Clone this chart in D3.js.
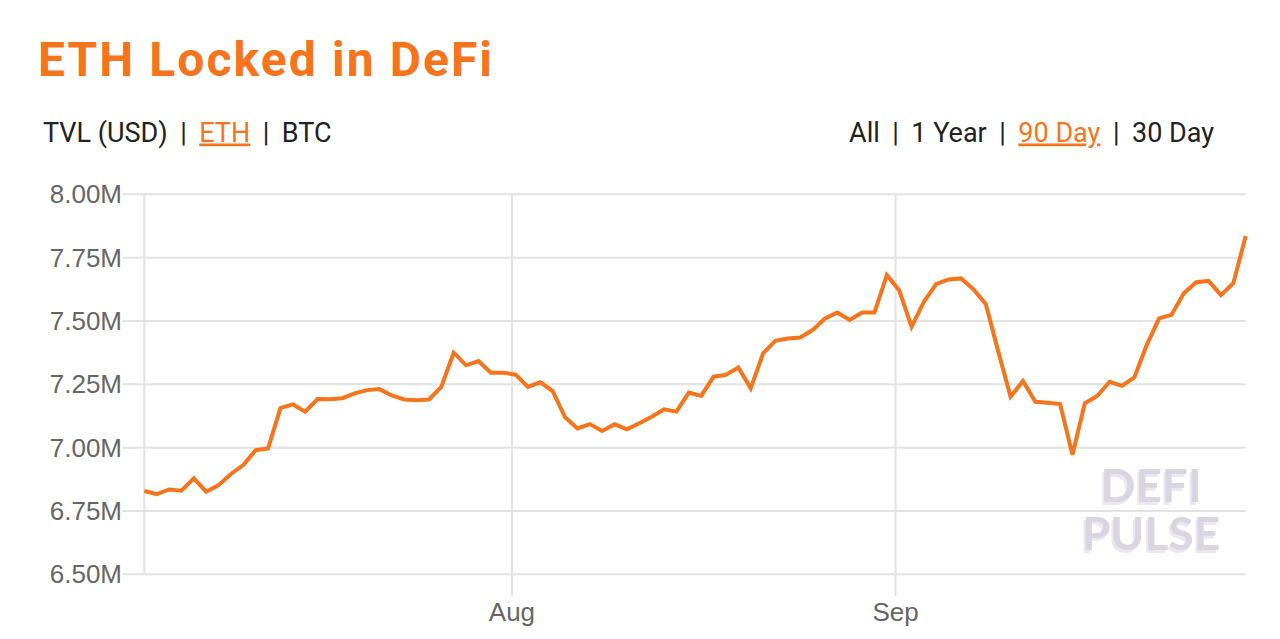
<!DOCTYPE html>
<html>
<head>
<meta charset="utf-8">
<script src="https://cdn.jsdelivr.net/npm/d3@7"></script>
<style>
  html, body { margin: 0; padding: 0; background: #fff; }
  svg { display: block; }
</style>
</head>
<body>
<svg id="chart" width="1280" height="639"></svg>
<script>
// ---- data ----
const title = "ETH Locked in DeFi";
const leftNav = ["TVL (USD)", "ETH", "BTC"];
const leftActive = "ETH";
const rightNav = ["All", "1 Year", "90 Day", "30 Day"];
const rightActive = "90 Day";
const startDate = Date.UTC(2020, 6, 2, 7); // first daily point
const yTicks = [6.50, 6.75, 7.00, 7.25, 7.50, 7.75, 8.00];
const xTickLabels = ["Aug", "Sep"];
// ETH locked, millions, one per day
const ethLocked = [
  6.829, 6.816, 6.835, 6.830, 6.879, 6.826, 6.852, 6.896, 6.931, 6.990,
  6.997, 7.156, 7.171, 7.142, 7.192, 7.191, 7.195, 7.214, 7.227, 7.231,
  7.206, 7.190, 7.187, 7.190, 7.240, 7.375, 7.325, 7.342, 7.296, 7.296,
  7.288, 7.240, 7.258, 7.223, 7.120, 7.076, 7.093, 7.066, 7.092, 7.072,
  7.096, 7.122, 7.151, 7.142, 7.217, 7.204, 7.280, 7.287, 7.316, 7.234,
  7.372, 7.422, 7.431, 7.435, 7.464, 7.510, 7.533, 7.504, 7.533, 7.533,
  7.681, 7.621, 7.477, 7.576, 7.646, 7.664, 7.668, 7.625, 7.566, 7.380,
  7.201, 7.263, 7.181, 7.177, 7.172, 6.972, 7.175, 7.204, 7.260, 7.244,
  7.277, 7.405, 7.510, 7.524, 7.609, 7.653, 7.658, 7.602, 7.649, 7.835
];
const watermark = ["DEFI", "PULSE"];

// ---- layout ----
const orange = "#F7741C";
const svg = d3.select("#chart");
const plot = { left: 144.3, right: 1245.7, top: 194.3, bottom: 574.3 };

const defs = svg.append("defs");
const f = defs.append("filter").attr("id", "wmShadow")
  .attr("x", "-10%").attr("y", "-10%").attr("width", "120%").attr("height", "130%");
f.append("feOffset").attr("in", "SourceAlpha").attr("dx", -2).attr("dy", 3).attr("result", "off");
f.append("feFlood").attr("flood-color", "#ebe9f0").attr("result", "col");
f.append("feComposite").attr("in", "col").attr("in2", "off").attr("operator", "in").attr("result", "sh");
const m = f.append("feMerge");
m.append("feMergeNode").attr("in", "sh");
m.append("feMergeNode").attr("in", "SourceGraphic");

const dates = ethLocked.map((_, i) => d3.utcDay.offset(new Date(startDate), i));
const data = dates.map((d, i) => ({ date: d, value: ethLocked[i] }));

const x = d3.scaleUtc()
  .domain(d3.extent(dates))
  .range([plot.left, plot.right]);
const y = d3.scaleLinear()
  .domain([d3.min(yTicks), d3.max(yTicks)])
  .range([plot.bottom, plot.top]);

// Title (spread to match target width)
const tEl = svg.append("text")
  .attr("x", 38).attr("y", 76)
  .attr("font-family", "Roboto, 'Open Sans', sans-serif")
  .attr("font-weight", 700)
  .attr("font-size", 48)
  .attr("fill", orange)
  .text(title);
const tw = tEl.node().getComputedTextLength();
tEl.attr("letter-spacing", Math.max(0, (454 - tw) / (title.length - 1)));

// Navigation rows
function navRow(items, active, xPos, anchorRight) {
  const g = svg.append("g");
  let cx = 0;
  const fs = 27, gap = 12.5;
  items.forEach((t, i) => {
    if (i > 0) {
      const p = g.append("text").attr("x", cx + gap).attr("y", 0)
        .attr("font-family", "Roboto, sans-serif").attr("font-size", fs)
        .attr("fill", "#222").text("|");
      cx += gap + p.node().getComputedTextLength() + gap;
    }
    const tt = g.append("text").attr("x", cx).attr("y", 0)
      .attr("font-family", "Roboto, sans-serif").attr("font-size", fs)
      .attr("fill", t === active ? orange : "#222")
      .attr("text-decoration", t === active ? "underline" : null)
      .text(t);
    cx += tt.node().getComputedTextLength();
  });
  const tx = anchorRight ? xPos - cx : xPos;
  g.attr("transform", `translate(${tx},141.5)`);
}
navRow(leftNav, leftActive, 43, false);
navRow(rightNav, rightActive, 1214, true);

// Horizontal gridlines (with tick extension to the left)
const grid = svg.append("g");
grid.selectAll("line.h").data(yTicks).join("line")
  .attr("class", "h")
  .attr("x1", plot.left - 22).attr("x2", plot.right)
  .attr("y1", d => y(d)).attr("y2", d => y(d))
  .attr("stroke", "#e3e3e3").attr("stroke-width", 2);

// left axis line
grid.append("line")
  .attr("x1", plot.left).attr("x2", plot.left)
  .attr("y1", plot.top).attr("y2", plot.bottom)
  .attr("stroke", "#e3e3e3").attr("stroke-width", 2);

// Month gridlines
const monthTicks = x.ticks(d3.utcMonth.every(1));
grid.selectAll("line.v").data(monthTicks).join("line")
  .attr("class", "v")
  .attr("x1", d => x(d)).attr("x2", d => x(d))
  .attr("y1", plot.top).attr("y2", plot.bottom + 22)
  .attr("stroke", "#e3e3e3").attr("stroke-width", 2);

// Y labels
svg.append("g").selectAll("text").data(yTicks).join("text")
  .attr("x", 122).attr("y", d => y(d))
  .attr("text-anchor", "end")
  .attr("dominant-baseline", "central")
  .attr("font-family", "'Liberation Sans', Arial, sans-serif")
  .attr("font-size", 26)
  .attr("fill", "#666")
  .text(d => d3.format(".2f")(d) + "M");

// X labels
svg.append("g").selectAll("text").data(monthTicks).join("text")
  .attr("x", d => x(d)).attr("y", 621)
  .attr("text-anchor", "middle")
  .attr("font-family", "'Liberation Sans', Arial, sans-serif")
  .attr("font-size", 26)
  .attr("fill", "#666")
  .text((d, i) => xTickLabels[i] || d3.utcFormat("%b")(d));

// Watermark (single text, two lines)
const wm = svg.append("text").attr("font-family", "Lato, 'Open Sans', sans-serif")
  .attr("font-weight", 700).attr("font-size", 46).attr("text-anchor", "middle")
  .attr("fill", "#d9d6e2").attr("filter", "url(#wmShadow)");
watermark.forEach((t, i) => {
  wm.append("tspan").attr("x", 1151).attr("y", 502 + i * 47.5).text(t);
});

// Line
const line = d3.line().x(d => x(d.date)).y(d => y(d.value));
svg.append("path")
  .datum(data)
  .attr("d", line)
  .attr("fill", "none")
  .attr("stroke", orange)
  .attr("stroke-width", 4)
  .attr("stroke-linejoin", "miter");
</script>
</body>
</html>
